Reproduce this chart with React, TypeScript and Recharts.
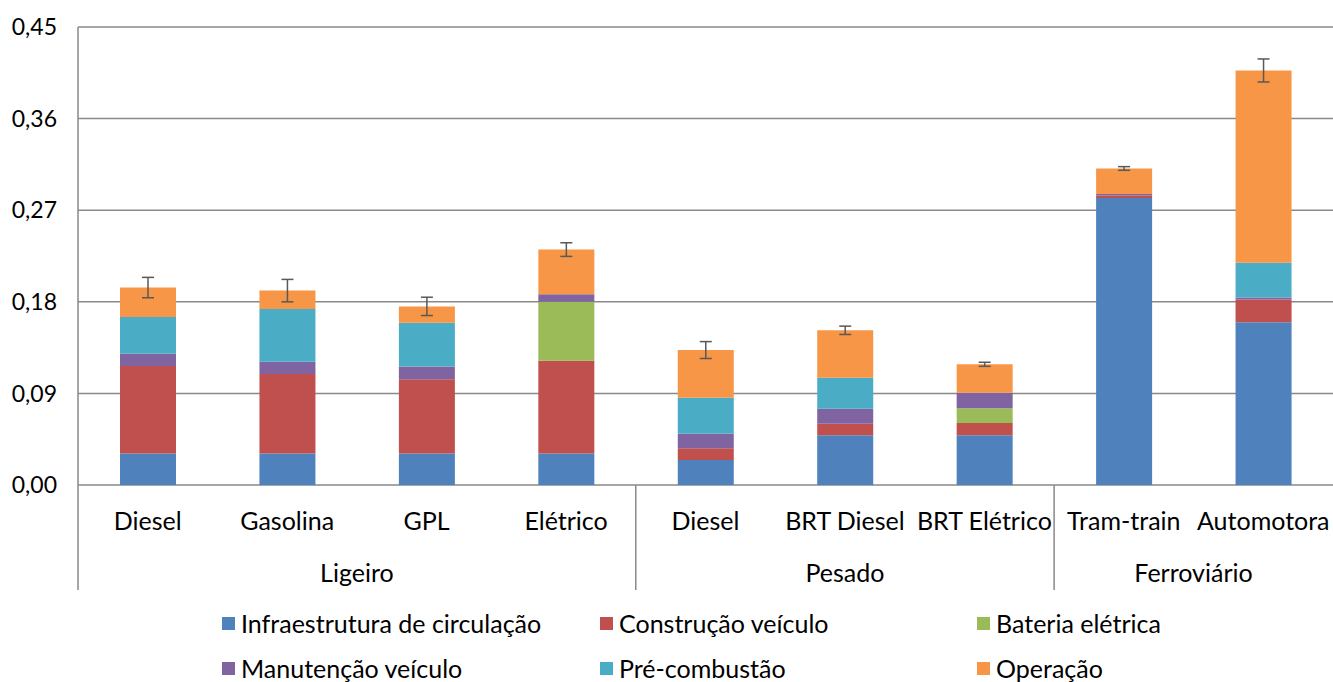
import React from "react";
import { BarChart, Bar, XAxis, YAxis, CartesianGrid, ErrorBar, Legend } from "recharts";

const categories = ["Diesel", "Gasolina", "GPL", "Elétrico", "Diesel", "BRT Diesel", "BRT Elétrico", "Tram-train", "Automotora"];
const groups = ["Ligeiro", "Ligeiro", "Ligeiro", "Ligeiro", "Pesado", "Pesado", "Pesado", "Ferroviário", "Ferroviário"];

const infraestrutura = [0.031, 0.031, 0.031, 0.031, 0.0246, 0.0488, 0.0488, 0.282, 0.16];
const construcao = [0.086, 0.078, 0.073, 0.091, 0.0114, 0.0114, 0.012, 0.0024, 0.0223];
const bateria = [0, 0, 0, 0.058, 0, 0, 0.0145, 0, 0];
const manutencao = [0.012, 0.012, 0.0125, 0.0073, 0.0144, 0.0148, 0.0153, 0.0016, 0.002];
const precombustao = [0.036, 0.052, 0.043, 0, 0.0354, 0.0304, 0, 0, 0.034];
const operacao = [0.029, 0.018, 0.016, 0.044, 0.0468, 0.0466, 0.028, 0.025, 0.189];
const erro = [0.01, 0.011, 0.009, 0.0067, 0.0083, 0.0041, 0.002, 0.0018, 0.0113];

const yTicks = [0, 0.09, 0.18, 0.27, 0.36, 0.45];

const series = [
  { key: "infra", name: "Infraestrutura de circulação", color: "#4F81BD", values: infraestrutura },
  { key: "constr", name: "Construção veículo", color: "#C0504D", values: construcao },
  { key: "bat", name: "Bateria elétrica", color: "#9BBB59", values: bateria },
  { key: "manut", name: "Manutenção veículo", color: "#8064A2", values: manutencao },
  { key: "precomb", name: "Pré-combustão", color: "#4BACC6", values: precombustao },
  { key: "oper", name: "Operação", color: "#F79646", values: operacao },
];

const data = categories.map((c, i) => {
  const row: any = { id: groups[i] + "-" + c, label: c, group: groups[i], erro: erro[i] };
  series.forEach((s) => (row[s.key] = s.values[i]));
  return row;
});

const FONT = "Lato, 'Open Sans', sans-serif";
const AXIS = "#898989";
const STEP = 1255 / categories.length;
const LABEL_SIZE = 25;

function CategoryTick(props: any) {
  const { x, y, index } = props;
  const g = groups[index];
  const first = index === 0 || groups[index - 1] !== g;
  let n = 0;
  for (let j = index; j < groups.length && groups[j] === g; j++) n++;
  return (
    <g>
      <text x={x} y={y + 35} textAnchor="middle" dominantBaseline="central" fontSize={LABEL_SIZE} fill="#000" fontFamily={FONT}>
        {categories[index]}
      </text>
      {first && (
        <>
          <line x1={x - STEP / 2} x2={x - STEP / 2} y1={y} y2={y + 105} stroke={AXIS} strokeWidth={1.5} />
          <text x={x + ((n - 1) * STEP) / 2} y={y + 87} textAnchor="middle" dominantBaseline="central" fontSize={LABEL_SIZE} fill="#000" fontFamily={FONT}>
            {g}
          </text>
        </>
      )}
    </g>
  );
}

function LegendBox() {
  const cols = [222, 600, 977];
  const rows = [23, 68];
  return (
    <div style={{ position: "relative", width: 1333, height: 82 }}>
      {series.map((s, i) => (
        <div
          key={s.key}
          style={{
            position: "absolute",
            left: cols[i % 3],
            top: rows[Math.floor(i / 3)] - 15,
            height: 30,
            display: "flex",
            alignItems: "center",
            whiteSpace: "nowrap",
          }}
        >
          <span style={{ width: 13, height: 13, background: s.color, display: "inline-block", marginRight: 6 }} />
          <span style={{ fontSize: LABEL_SIZE, fontFamily: FONT, color: "#000" }}>{s.name}</span>
        </div>
      ))}
    </div>
  );
}

export default function App() {
  return (
    <div style={{ position: "absolute", left: 0, top: 0, width: 1333, height: 682, background: "#fff" }}>
      <BarChart width={1333} height={682} data={data} margin={{ top: 27, right: 0, bottom: 0, left: 0 }} barSize={56}>
        <CartesianGrid vertical={false} stroke={AXIS} strokeWidth={1.5} />
        <YAxis
          domain={[0, 0.45]}
          ticks={yTicks}
          width={78}
          tickSize={0}
          tickMargin={21}
          tickLine={false}
          axisLine={{ stroke: AXIS, strokeWidth: 1.5 }}
          tick={{ fontSize: 23, fill: "#000", fontFamily: FONT }}
          tickFormatter={(v: number) => v.toFixed(2).replace(".", ",")}
        />
        <XAxis dataKey="id" height={115} tickSize={0} tickMargin={0} tickLine={false} axisLine={false} interval={0} tick={<CategoryTick />} />
        {series.map((s) => (
          <Bar key={s.key} dataKey={s.key} name={s.name} stackId="a" fill={s.color} isAnimationActive={false}>
            {s.key === "oper" && <ErrorBar dataKey="erro" width={6} stroke="#595959" strokeWidth={1.5} direction="y" />}
          </Bar>
        ))}
        <Legend verticalAlign="bottom" wrapperStyle={{ left: 0, bottom: 0, width: 1333, height: 82 }} content={() => <LegendBox />} />
      </BarChart>
    </div>
  );
}
